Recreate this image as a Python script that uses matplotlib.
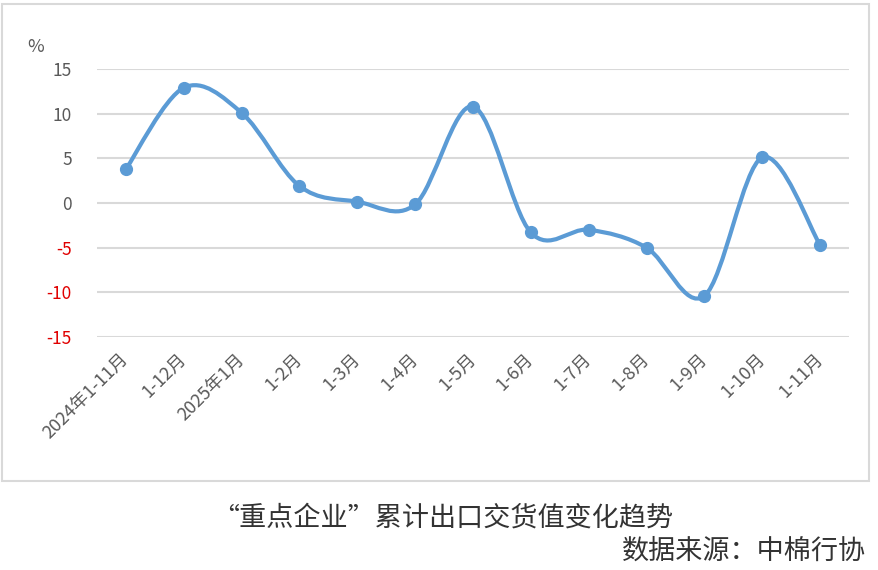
import matplotlib.pyplot as plt
from matplotlib.path import Path
from matplotlib.patches import PathPatch, Rectangle

plt.rcParams['font.family'] = ['Noto Sans CJK SC', 'DejaVu Sans']

months = ['2024年1-11月', '1-12月', '2025年1月', '1-2月', '1-3月', '1-4月', '1-5月',
          '1-6月', '1-7月', '1-8月', '1-9月', '1-10月', '1-11月']
values = [3.8, 12.9, 10.1, 1.9, 0.15, -0.15, 10.8, -3.3, -3.0, -5.0, -10.4, 5.1, -4.7]
yticks = [-15, -10, -5, 0, 5, 10, 15]

blue = '#5B9BD5'

fig = plt.figure(figsize=(8.79, 5.70), dpi=100)
fig.patches.append(Rectangle((2 / 879, 1 - 481 / 570), 867 / 879, 477 / 570,
                             transform=fig.transFigure, fill=False,
                             edgecolor='#D9D9D9', linewidth=1.5))

ax = fig.add_axes([97 / 879, 1 - 337 / 570, 752 / 879, 268 / 570])
x = list(range(len(values)))

# smoothed line like excel: bezier segments through the points
verts = [(x[0], values[0])]
codes = [Path.MOVETO]
n = len(values)
for i in range(n - 1):
    p0 = (x[max(i - 1, 0)], values[max(i - 1, 0)])
    p1 = (x[i], values[i])
    p2 = (x[i + 1], values[i + 1])
    p3 = (x[min(i + 2, n - 1)], values[min(i + 2, n - 1)])
    c1 = (p1[0] + (p2[0] - p0[0]) / 6, p1[1] + (p2[1] - p0[1]) / 6)
    c2 = (p2[0] - (p3[0] - p1[0]) / 6, p2[1] - (p3[1] - p1[1]) / 6)
    verts += [c1, c2, p2]
    codes += [Path.CURVE4] * 3
ax.add_patch(PathPatch(Path(verts, codes), fill=False, edgecolor=blue,
                       linewidth=3, capstyle='round', joinstyle='round', zorder=3))
ax.plot(x, values, 'o', color=blue, markersize=8.5, zorder=4)

ax.set_xlim(-0.5, n - 0.5)
ax.set_ylim(-15, 15)
ax.set_yticks(yticks)
ax.set_yticklabels([str(v) for v in yticks], fontsize=12.5, color='#595959')
for lab, v in zip(ax.get_yticklabels(), yticks):
    if v < 0:
        lab.set_color('#E00000')
ax.set_xticks(x)
ax.set_xticklabels(months, fontsize=13, color='#595959', rotation=45,
                   ha='right', va='center', rotation_mode='anchor')
ax.tick_params(axis='both', length=0)
ax.tick_params(axis='y', pad=18)
ax.tick_params(axis='x', pad=14)
ax.grid(axis='y', color='#D9D9D9', linewidth=1.5)
ax.set_axisbelow(True)
for s in ax.spines.values():
    s.set_visible(False)

fig.text(36 / 879, 1 - 47 / 570, '%', fontsize=13, color='#595959', ha='center', va='center')
fig.text(443 / 879, 1 - 518 / 570, '“重点企业”累计出口交货值变化趋势', fontsize=19.5,
         color='#333333', ha='center', va='center', fontweight='light')
fig.text(866 / 879, 1 - 551 / 570, '数据来源：中棉行协', fontsize=19.5,
         color='#333333', ha='right', va='center', fontweight='light')

fig.savefig('out.png', dpi=100)
